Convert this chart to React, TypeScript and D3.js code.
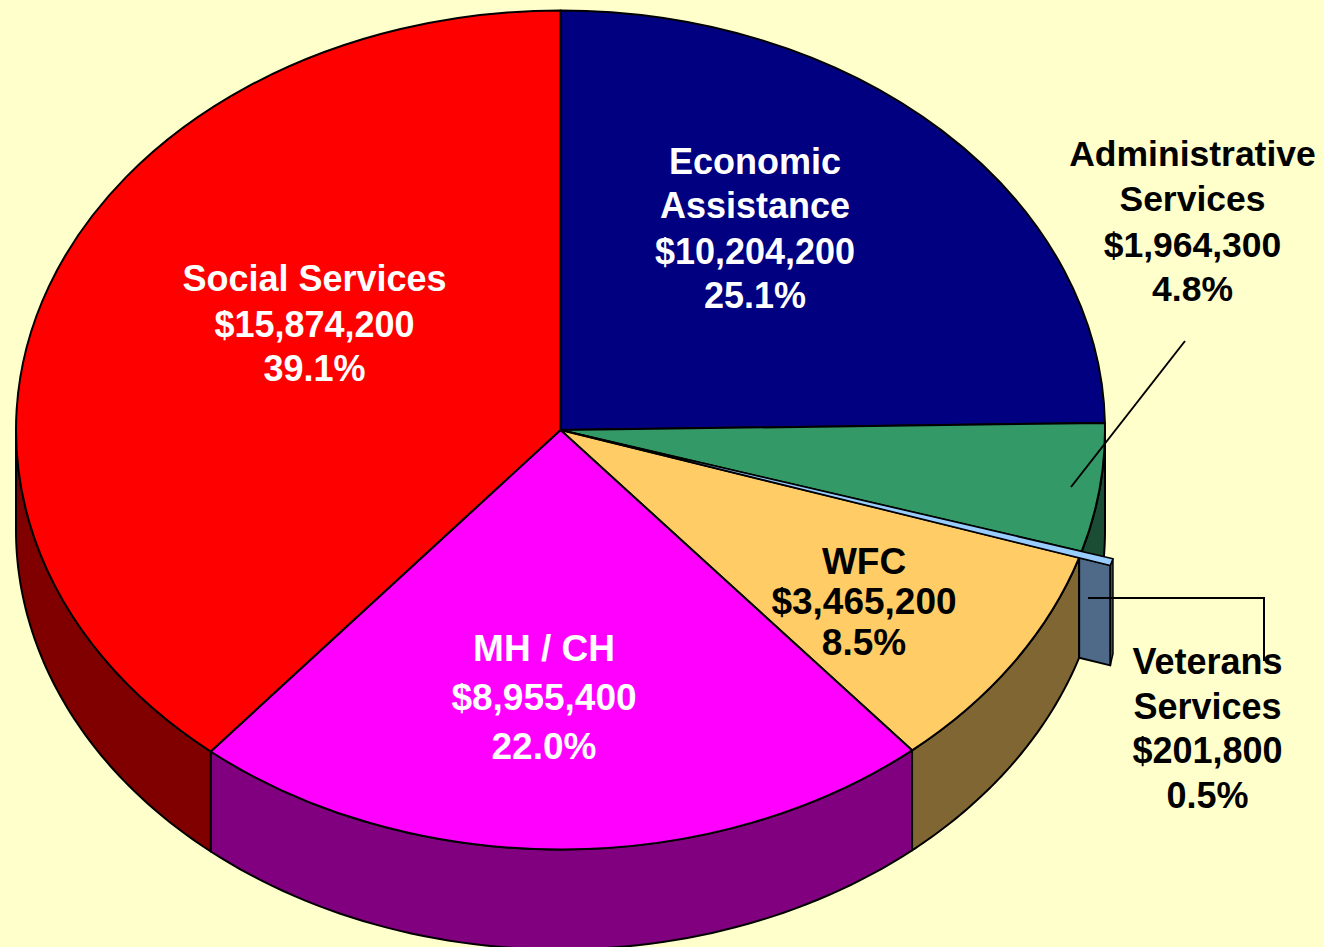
import React from "react";
import * as d3 from "d3";

const categories = ["Economic Assistance", "Administrative Services", "Veterans Services", "WFC", "MH / CH", "Social Services"];
const values = [10204200, 1964300, 201800, 3465200, 8955400, 15874200];
const topColors = ["#000080", "#339966", "#99CCFF", "#FFCC66", "#FF00FF", "#FF0000"];
const sideColors = ["#000040", "#1A4D33", "#4F6A88", "#806633", "#800080", "#800000"];

const labelLines = [
  ["Economic", "Assistance", "$10,204,200", "25.1%"],
  ["Administrative", "Services", "$1,964,300", "4.8%"],
  ["Veterans", "Services", "$201,800", "0.5%"],
  ["WFC", "$3,465,200", "8.5%"],
  ["MH / CH", "$8,955,400", "22.0%"],
  ["Social Services", "$15,874,200", "39.1%"],
];
const labelX = [755, 1192.5, 1207.5, 864, 544, 314.5];
const labelY = [
  [174, 218, 264, 308],
  [166, 211, 257, 301],
  [674, 719, 763, 808],
  [574, 614, 655],
  [661, 710, 759],
  [291, 337, 381],
];
const labelFill = ["#fff", "#000", "#000", "#000", "#fff", "#fff"];
const labelSize = [36, 35.5, 36, 37, 37, 36];
// the original's slice edges sit slightly off their true share (degrees)
const edgeNudge = [-1.3, 0, 0, -0.4, 0.5, 0];

const W = 1324;
const H = 947;
const cx = 560.5;
const cy = 430;
const rx = 544.5;
const ry = 419.5;
const depth = 100;
const pull = 1.06; // veterans slice sticks out
const sliver = (0.9 * Math.PI) / 180; // the drawn veterans wedge is thinner than its share
const VET = 2;

const pt = (a: number, k = 1, dy = 0): [number, number] => [
  cx + rx * k * Math.sin(a),
  cy - ry * k * Math.cos(a) + dy,
];

const pie = d3.pie<number>().sort(null);
const arcs = pie(values).map((d, i) => ({ start: d.startAngle, end: d.endAngle, i }));
// close the wedge gap: neighbours meet around the thin veterans slice
const vetStart = arcs[VET].start;
arcs[1].end = vetStart - sliver;
arcs[3].start = vetStart;
arcs[VET].end = vetStart;
arcs[VET].start = vetStart - sliver;
edgeNudge.forEach((deg, i) => {
  if (!deg) return;
  const n = (deg * Math.PI) / 180;
  arcs[i].end += n;
  arcs[i + 1].start += n;
});

const line = d3.line();

function sidePath(start: number, end: number) {
  const a0 = Math.max(start, Math.PI / 2);
  const a1 = Math.min(end, (3 * Math.PI) / 2);
  if (a1 <= a0) return null;
  const steps = d3.range(0, 61).map((t) => a0 + ((a1 - a0) * t) / 60);
  const upper = steps.map((a) => pt(a));
  const lower = steps.map((a) => pt(a, 1, depth)).reverse();
  return line([...upper, ...lower]) + "Z";
}

export default function App() {
  const ink = { stroke: "#000", strokeWidth: 2, strokeLinejoin: "round" as const };
  const topArc = d3.arc<any>().innerRadius(0).outerRadius(rx);
  const vetArc = d3.arc<any>().innerRadius(0).outerRadius(rx * pull);
  const vet = arcs[VET];
  const rim = pt(vet.end);
  const lowCorner = pt(vet.end, pull);
  const highCorner = pt(vet.start, pull);

  return (
    <svg width={W} height={H} style={{ position: "fixed", left: 0, top: 0 }} fontFamily="'Liberation Sans', Arial, sans-serif">
      <rect width={W} height={H} fill="#FFFFCC" />

      {arcs.filter((d) => d.i !== VET).map((d) => {
        const p = sidePath(d.start, d.end);
        return p ? <path key={d.i} d={p} fill={sideColors[d.i]} {...ink} /> : null;
      })}

      {arcs.filter((d) => d.i !== VET).map((d) => (
        <path
          key={d.i}
          d={topArc({ startAngle: d.start, endAngle: d.end }) as string}
          transform={`translate(${cx},${cy}) scale(1,${ry / rx})`}
          vectorEffect="non-scaling-stroke"
          fill={topColors[d.i]}
          {...ink}
        />
      ))}

      {/* veterans slice: cut face, rim and thin top */}
      <path
        d={line([highCorner, lowCorner, [lowCorner[0], lowCorner[1] + depth], [highCorner[0], highCorner[1] + depth - 5]]) + "Z"}
        fill={sideColors[VET]}
        {...ink}
        strokeWidth={1.5}
      />
      <path
        d={line([rim, lowCorner, [lowCorner[0], lowCorner[1] + depth], [rim[0], rim[1] + depth]]) + "Z"}
        fill={sideColors[VET]}
        {...ink}
      />
      <path
        d={vetArc({ startAngle: vet.start, endAngle: vet.end }) as string}
        transform={`translate(${cx},${cy}) scale(1,${ry / rx})`}
        vectorEffect="non-scaling-stroke"
        fill={topColors[VET]}
        {...ink}
        strokeWidth={1.5}
      />

      {/* leader lines */}
      <path d={line([[1185, 341], [1071, 487]]) as string} fill="none" stroke="#000" strokeWidth={2} />
      <path d={line([[1088, 598], [1264, 598], [1264, 661]]) as string} fill="none" stroke="#000" strokeWidth={2} />

      {labelLines.map((lines, i) =>
        lines.map((txt, j) => (
          <text
            key={categories[i] + j}
            x={labelX[i]}
            y={labelY[i][j]}
            textAnchor="middle"
            fontSize={labelSize[i]}
            fontWeight="bold"
            fill={labelFill[i]}
          >
            {txt}
          </text>
        ))
      )}
    </svg>
  );
}
